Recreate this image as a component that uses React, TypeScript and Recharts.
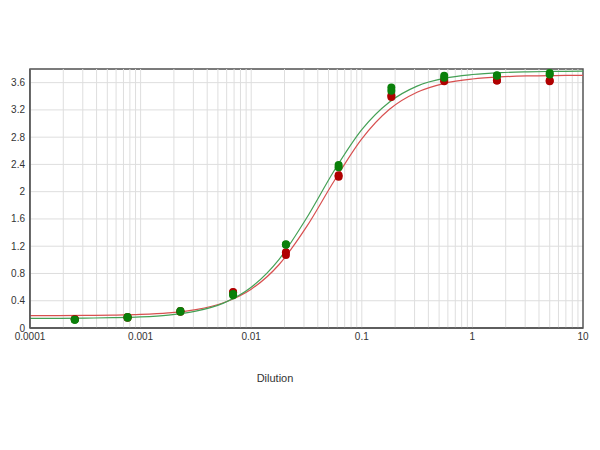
import React from 'react';
import {
  ComposedChart, Line, Scatter, XAxis, YAxis, CartesianGrid, ReferenceLine, ReferenceArea,
} from 'recharts';

// dilutions where the samples were measured (3-fold series)
const dilutions = [0.000254, 0.000762, 0.00229, 0.00686, 0.0206, 0.0617, 0.185, 0.556, 1.667, 5];

// replicate readings
const greenRep1 = [0.12, 0.15, 0.24, 0.48, 1.23, 2.39, 3.53, 3.70, 3.71, 3.74];
const greenRep2 = [0.12, 0.16, 0.25, 0.50, 1.22, 2.36, 3.48, 3.67, 3.70, 3.72];
const redRep1 = [0.13, 0.16, 0.24, 0.53, 1.11, 2.24, 3.41, 3.64, 3.63, 3.63];
const redRep2 = [0.13, 0.15, 0.25, 0.52, 1.07, 2.22, 3.39, 3.62, 3.63, 3.62];

// fitted curves, sampled every quarter decade
const curveX = [
  0.0001, 0.000178, 0.000316, 0.000562, 0.001, 0.00178, 0.00316, 0.00562, 0.01, 0.0178, 0.0316,
  0.0562, 0.1, 0.178, 0.316, 0.562, 1, 1.78, 3.16, 5.62, 10,
];
const greenCurve = [
  0.141, 0.142, 0.145, 0.151, 0.163, 0.190, 0.247, 0.365, 0.597, 1.004, 1.610,
  2.307, 2.910, 3.316, 3.549, 3.665, 3.719, 3.747, 3.759, 3.765, 3.768,
];
const redCurve = [
  0.181, 0.182, 0.184, 0.189, 0.199, 0.222, 0.270, 0.370, 0.568, 0.928, 1.483,
  2.157, 2.775, 3.209, 3.459, 3.590, 3.653, 3.684, 3.698, 3.704, 3.707,
];

const xTicks = [0.0001, 0.001, 0.01, 0.1, 1, 10];
const yTicks = [0, 0.4, 0.8, 1.2, 1.6, 2, 2.4, 2.8, 3.2, 3.6];
const minorMultipliers = [1, 2, 3, 4, 5, 6, 7, 8, 9];

const gridX: number[] = [];
xTicks.slice(0, -1).forEach((d) => minorMultipliers.forEach((m) => gridX.push(d * m)));

const toPoints = (xs: number[], ys: number[]) => xs.map((x, i) => ({ x, y: ys[i] }));

const greenLine = toPoints(curveX, greenCurve);
const redLine = toPoints(curveX, redCurve);
const greenDots = [...toPoints(dilutions, greenRep1), ...toPoints(dilutions, greenRep2)];
const redDots = [...toPoints(dilutions, redRep1), ...toPoints(dilutions, redRep2)];

const dot = (color: string) => (props: any) => (
  <circle cx={props.cx} cy={props.cy} r={4} fill={color} />
);

const tickStyle = { fontSize: 10, fill: '#333', fontFamily: '"Liberation Sans", Arial, sans-serif' };

const App: React.FC = () => {
  return (
    <div style={{ position: 'absolute', left: 0, top: 0, width: 600, height: 450, background: '#fff' }}>
      <ComposedChart width={600} height={450} margin={{ top: 69, right: 17, left: 0, bottom: 0 }}>
        <CartesianGrid vertical={false} stroke="#dedede" />
        {gridX.map((v) => (
          <ReferenceLine key={v} x={v} stroke="#dedede" ifOverflow="hidden" />
        ))}
        <XAxis
          dataKey="x"
          type="number"
          scale="log"
          domain={[0.0001, 10]}
          ticks={xTicks}
          allowDataOverflow
          height={122}
          tickLine={false}
          tickSize={0}
          tickMargin={5}
          axisLine={{ stroke: '#555', strokeWidth: 1.5 }}
          tick={tickStyle}
          tickFormatter={(v: number) => String(v)}
          label={{
            content: () => (
              <text x={275} y={382} textAnchor="middle" fontSize={11} fill="#333"
                fontFamily='"Liberation Sans", Arial, sans-serif'>Dilution</text>
            ),
          }}
        />
        <YAxis
          type="number"
          domain={[0, 3.8]}
          ticks={yTicks}
          allowDataOverflow
          width={30}
          tickLine={false}
          tickSize={0}
          tickMargin={5}
          axisLine={{ stroke: '#555', strokeWidth: 1.5 }}
          tick={tickStyle}
        />
        <ReferenceArea x1={0.0001} x2={10} y1={0} y2={3.8} fill="none" stroke="#555" strokeWidth={1.5} />
        <Line data={redLine} dataKey="y" type="monotone" stroke="#d85050" strokeWidth={1.2} dot={false} isAnimationActive={false} />
        <Line data={greenLine} dataKey="y" type="monotone" stroke="#44a055" strokeWidth={1.2} dot={false} isAnimationActive={false} />
        <Scatter data={redDots} dataKey="y" shape={dot('#b00000')} isAnimationActive={false} />
        <Scatter data={greenDots} dataKey="y" shape={dot('#0a800a')} isAnimationActive={false} />
      </ComposedChart>
    </div>
  );
};

export default App;
